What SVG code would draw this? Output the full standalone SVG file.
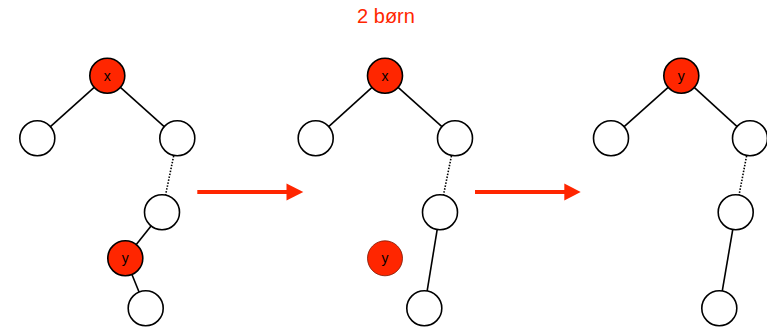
<svg xmlns="http://www.w3.org/2000/svg" width="767" height="327" viewBox="0 0 767 327">
<style>
.n{fill:#fff;stroke:#000;stroke-width:1.6}
.r{fill:#ff2600;stroke:#000;stroke-width:1.6}
.ry{fill:#ff2600;stroke:#7a1500;stroke-width:0.8}
.e{stroke:#000;stroke-width:1.6;fill:none}
.d{stroke:#000;stroke-width:1.6;fill:none;stroke-dasharray:1.5 1.5}
.a{stroke:#ff2600;stroke-width:4;fill:none}
.ah{fill:#ff2600}
.l{font-family:"Liberation Sans",Arial,sans-serif;font-size:14px;fill:#000;text-anchor:middle}
.t{font-family:"Liberation Sans",Arial,sans-serif;font-size:20px;fill:#ff2600;text-anchor:middle}
</style>
<rect width="767" height="327" fill="#fff"/>
<text class="t" x="386" y="23">2 børn</text>
<g id="connectors">
<line class="e" x1="107.3" y1="75.7" x2="37.3" y2="138.3"/>
<line class="e" x1="107.3" y1="75.7" x2="177.3" y2="138.3"/>
<line class="d" x1="177.3" y1="138.3" x2="162" y2="212.3"/>
<line class="e" x1="162" y1="212.3" x2="125.3" y2="258.3"/>
<line class="e" x1="125.3" y1="258.3" x2="145.7" y2="308.3"/>
<line class="e" x1="385" y1="75.7" x2="315.7" y2="138.3"/>
<line class="e" x1="385" y1="75.7" x2="455" y2="138.3"/>
<line class="d" x1="455" y1="138.3" x2="440" y2="212.3"/>
<line class="e" x1="440" y1="212.3" x2="424.3" y2="308.3"/>
<line class="e" x1="681.3" y1="75.7" x2="611" y2="138.3"/>
<line class="e" x1="681.3" y1="75.7" x2="750" y2="138.3"/>
<line class="d" x1="750" y1="138.3" x2="735.7" y2="212.3"/>
<line class="e" x1="735.7" y1="212.3" x2="719.3" y2="308.3"/>
<line class="a" x1="197.3" y1="192" x2="288" y2="192"/>
<polygon class="ah" points="286.5,183.5 303.3,192 286.5,200.5"/>
<line class="a" x1="475" y1="192" x2="566" y2="192"/>
<polygon class="ah" points="564.3,183.5 580.7,192 564.3,200.5"/>
</g>
<g id="t1-x"><circle class="r" cx="107.3" cy="75.7" r="17.5"/><text class="l" x="107.3" y="80.5">x</text></g>
<g id="t1-l"><circle class="n" cx="37.3" cy="138.3" r="17.5"/></g>
<g id="t1-r"><circle class="n" cx="177.3" cy="138.3" r="17.5"/></g>
<g id="t1-m"><circle class="n" cx="162" cy="212.3" r="17.5"/></g>
<g id="t1-y"><circle class="r" cx="125.3" cy="258.3" r="17.5"/><text class="l" x="125.3" y="263">y</text></g>
<g id="t1-b"><circle class="n" cx="145.7" cy="308.3" r="17.5"/></g>
<g id="t2-x"><circle class="r" cx="385" cy="75.7" r="17.5"/><text class="l" x="385" y="80.5">x</text></g>
<g id="t2-l"><circle class="n" cx="315.7" cy="138.3" r="17.5"/></g>
<g id="t2-r"><circle class="n" cx="455" cy="138.3" r="17.5"/></g>
<g id="t2-m"><circle class="n" cx="440" cy="212.3" r="17.5"/></g>
<g id="t2-y"><circle class="ry" cx="385" cy="258.3" r="17.5"/><text class="l" x="385" y="263">y</text></g>
<g id="t2-b"><circle class="n" cx="424.3" cy="308.3" r="17.5"/></g>
<g id="t3-y"><circle class="r" cx="681.3" cy="75.7" r="17.5"/><text class="l" x="681.3" y="80.5">y</text></g>
<g id="t3-l"><circle class="n" cx="611" cy="138.3" r="17.5"/></g>
<g id="t3-r"><circle class="n" cx="750" cy="138.3" r="17.5"/></g>
<g id="t3-m"><circle class="n" cx="735.7" cy="212.3" r="17.5"/></g>
<g id="t3-b"><circle class="n" cx="719.3" cy="308.3" r="17.5"/></g>
</svg>
